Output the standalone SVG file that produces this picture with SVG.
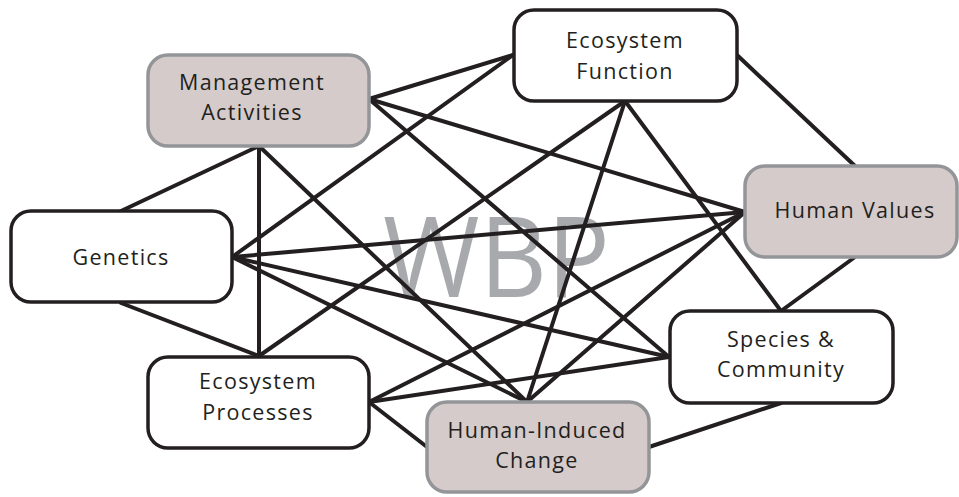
<svg xmlns="http://www.w3.org/2000/svg" width="959" height="497" viewBox="0 0 959 497">
<style>
.bg{fill:#ffffff}
.wm{font-family:"Open Sans","Liberation Sans",sans-serif;font-size:112px;fill:#a7a9ac}
.edge{stroke:#231f20;stroke-width:4;stroke-linecap:round;fill:none}
.box{fill:#ffffff;stroke:#231f20;stroke-width:3.5}
.gbox{fill:#d4cbca;stroke:#939598;stroke-width:3.5}
.lbl{font-family:"Open Sans","Liberation Sans",sans-serif;font-size:21.5px;letter-spacing:1.3px;fill:#231f20;text-anchor:middle}
</style>
<rect class="bg" x="0" y="0" width="959" height="497"/>
<text class="wm" x="383" y="297" textLength="227" lengthAdjust="spacingAndGlyphs">WBP</text>
<g id="connectors">
<line class="edge" x1="259" y1="146" x2="121" y2="211"/>
<line class="edge" x1="259" y1="146" x2="259" y2="356"/>
<line class="edge" x1="259" y1="146" x2="527" y2="402"/>
<line class="edge" x1="369" y1="99" x2="513" y2="55"/>
<line class="edge" x1="369" y1="99" x2="745" y2="212"/>
<line class="edge" x1="369" y1="99" x2="669" y2="357"/>
<line class="edge" x1="232" y1="257" x2="513" y2="55"/>
<line class="edge" x1="232" y1="257" x2="745" y2="212"/>
<line class="edge" x1="232" y1="257" x2="669" y2="357"/>
<line class="edge" x1="232" y1="257" x2="527" y2="402"/>
<line class="edge" x1="121" y1="303" x2="259" y2="356"/>
<line class="edge" x1="259" y1="356" x2="625" y2="101"/>
<line class="edge" x1="369" y1="402" x2="745" y2="212"/>
<line class="edge" x1="369" y1="402" x2="669" y2="357"/>
<line class="edge" x1="369" y1="402" x2="427" y2="447"/>
<line class="edge" x1="625" y1="101" x2="527" y2="402"/>
<line class="edge" x1="625" y1="101" x2="781" y2="311"/>
<line class="edge" x1="737" y1="55" x2="855" y2="166"/>
<line class="edge" x1="855" y1="257" x2="781" y2="311"/>
<line class="edge" x1="745" y1="212" x2="527" y2="402"/>
<line class="edge" x1="649" y1="447" x2="781" y2="403"/>
</g>
<g id="management-activities">
<rect class="gbox" x="148" y="55" width="221" height="91" rx="20"/>
<text class="lbl" x="252" y="90">Management</text>
<text class="lbl" x="252" y="120">Activities</text>
</g>
<g id="ecosystem-function">
<rect class="box" x="514" y="10" width="223" height="91" rx="20"/>
<text class="lbl" x="625" y="48">Ecosystem</text>
<text class="lbl" x="625" y="79">Function</text>
</g>
<g id="genetics">
<rect class="box" x="11" y="211" width="221" height="91" rx="20"/>
<text class="lbl" x="121" y="265">Genetics</text>
</g>
<g id="human-values">
<rect class="gbox" x="745" y="166" width="212" height="91" rx="20"/>
<text class="lbl" x="855" y="218">Human Values</text>
</g>
<g id="ecosystem-processes">
<rect class="box" x="148" y="357" width="221" height="91" rx="20"/>
<text class="lbl" x="258" y="389">Ecosystem</text>
<text class="lbl" x="258" y="420">Processes</text>
</g>
<g id="species-community">
<rect class="box" x="670" y="311" width="223" height="92" rx="20"/>
<text class="lbl" x="781" y="347">Species &amp;</text>
<text class="lbl" x="781" y="377">Community</text>
</g>
<g id="human-induced-change">
<rect class="gbox" x="427" y="402" width="222" height="90" rx="20"/>
<text class="lbl" x="537" y="438">Human-Induced</text>
<text class="lbl" x="537" y="468">Change</text>
</g>
</svg>
